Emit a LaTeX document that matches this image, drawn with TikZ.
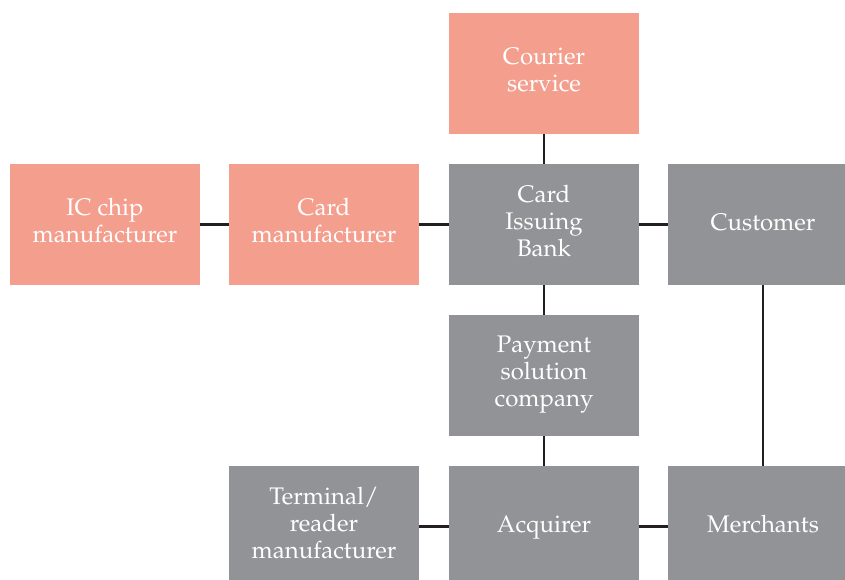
\documentclass[tikz,border=0pt]{standalone}
\usepackage[T1]{fontenc}
\usepackage{mathpazo}
\definecolor{salmon}{HTML}{F49E8E}
\definecolor{slate}{HTML}{929396}
\definecolor{wire}{HTML}{231F20}
% fixed strut so every label sits at the same height in its box
\newcommand\labelstrut{\rule[-8pt]{0pt}{27pt}}
\tikzset{
  unit/.style={minimum width=190pt, minimum height=121pt, inner sep=0pt,
    align=center, text=white, font=\fontsize{24}{27}\selectfont,
    execute at begin node=\labelstrut, execute at end node=\labelstrut},
  partner/.style={unit, fill=salmon},
  core/.style={unit, fill=slate},
  link/.style={draw=wire, line width=2.2pt}
}
\begin{document}
\begin{tikzpicture}[x=1pt, y=-1pt]
  \useasboundingbox (0,0) rectangle (845,579);
  \begin{scope}
  \clip (0,0) rectangle (845,579);
  % upper chain
  \node[partner] (courier) at (544,73.5) {Courier\\service};
  \node[partner] (chip) at (105,224.5) {IC chip\\manufacturer};
  \node[partner] (cardmfr) at (324,224.5) {Card\\manufacturer};
  \node[core] (bank) at (544,224.5) {Card\\Issuing\\Bank};
  \node[core] (customer) at (763,224.5) {Customer};
  % middle and lower rows
  \node[core] (payment) at (544,375.5) {Payment\\solution\\company};
  \node[core] (terminal) at (324,526.5) {Terminal/\\reader\\manufacturer};
  \node[core] (acquirer) at (544,526.5) {Acquirer};
  \node[core] (merchants) at (763,526.5) {Merchants};
  % connections
  \draw[link] (courier) -- (bank);
  \draw[link] (chip) -- (cardmfr);
  \draw[link] (cardmfr) -- (bank);
  \draw[link] (bank) -- (customer);
  \draw[link] (bank) -- (payment);
  \draw[link] (payment) -- (acquirer);
  \draw[link] (terminal) -- (acquirer);
  \draw[link] (acquirer) -- (merchants);
  \draw[link] (customer) -- (merchants);
  \end{scope}
\end{tikzpicture}
\end{document}
